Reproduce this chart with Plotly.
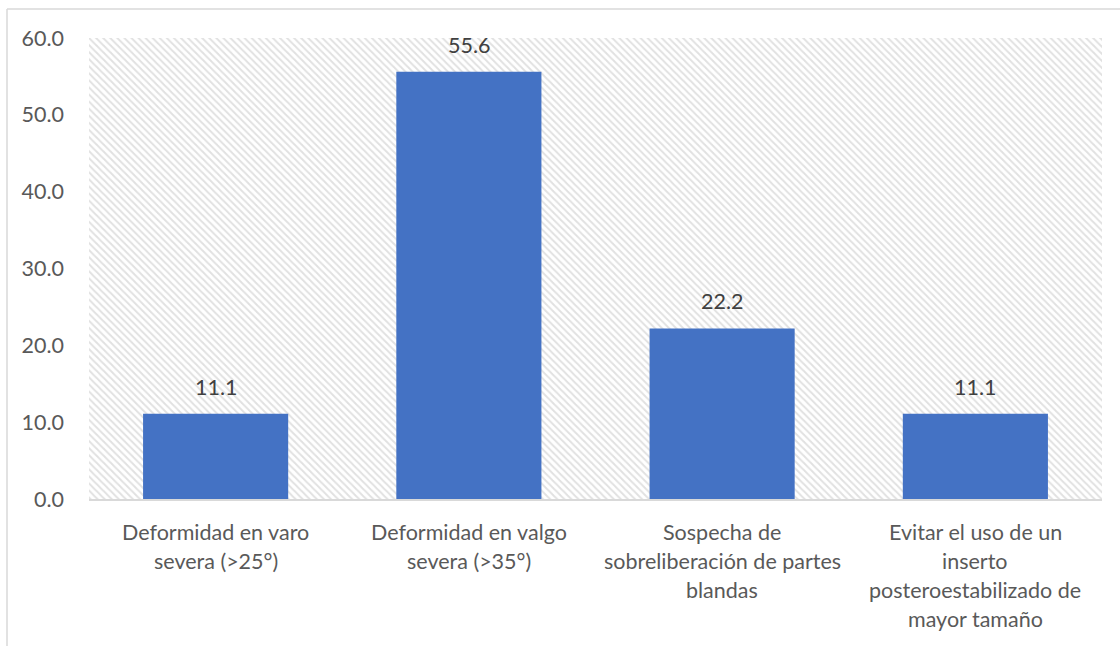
import plotly.graph_objects as go

# Reasons for the choice, label lines as wrapped under each bar
label_lines = [
    ["Deformidad en varo", "severa (>25°)"],
    ["Deformidad en valgo", "severa (>35°)"],
    ["Sospecha de", "sobreliberación de partes", "blandas"],
    ["Evitar el uso de un", "inserto", "posteroestabilizado de", "mayor tamaño"],
]
categories = [" ".join(lines) for lines in label_lines]
values = [11.1, 55.6, 22.2, 11.1]
y_ticks = [0, 10, 20, 30, 40, 50, 60]

W, H = 1120, 646
M_L, M_R, M_T, M_B = 89, 18, 38, 147
FONT = "Lato"
FONT_SIZE = 21.5
TEXT_GRAY = "#595959"
BAR_BLUE = "#4472C4"
FRAME_GRAY = "#d9d9d9"

y_max = y_ticks[-1]
n = len(categories)

fig = go.Figure()

# hatched plot-area background, spanning the whole category range
fig.add_trace(go.Bar(
    x=[categories[0]], y=[y_max], width=[n], offset=-0.5,
    marker=dict(color="white", line=dict(width=0),
                pattern=dict(shape="\\", fgcolor="#c4c4c4", bgcolor="white",
                             size=5, solidity=0.4)),
    hoverinfo="skip", showlegend=False,
))

fig.add_trace(go.Bar(
    x=categories, y=values, width=0.573,
    marker=dict(color=BAR_BLUE, line=dict(width=0)),
    showlegend=False,
))

annotations = []
# value labels above bars
for c, v in zip(categories, values):
    annotations.append(dict(
        x=c, y=v, xref="x", yref="y", text=f"{v:.1f}", showarrow=False,
        yanchor="middle", yshift=27,
        font=dict(family=FONT, size=FONT_SIZE, color="#404040"),
    ))
# category labels, one annotation per wrapped line
for c, lines in zip(categories, label_lines):
    for i, line in enumerate(lines):
        annotations.append(dict(
            x=c, y=0, xref="x", yref="paper", text=line, showarrow=False,
            yanchor="middle", yshift=-(33 + 29 * i),
            font=dict(family=FONT, size=FONT_SIZE, color=TEXT_GRAY),
        ))

plot_w = W - M_L - M_R
plot_h = H - M_T - M_B
frame_x = (7 - M_L) / plot_w
frame_y = (H - M_B - 9) / plot_h
shapes = [
    dict(type="line", xref="paper", yref="paper", x0=frame_x, x1=(W - M_L) / plot_w,
         y0=frame_y, y1=frame_y, line=dict(color=FRAME_GRAY, width=1.5)),
    dict(type="line", xref="paper", yref="paper", x0=frame_x, x1=frame_x,
         y0=frame_y, y1=-(M_B) / plot_h, line=dict(color=FRAME_GRAY, width=1.5)),
]

fig.update_layout(
    width=W, height=H, autosize=False,
    margin=dict(l=M_L, r=M_R, t=M_T, b=M_B, pad=0),
    paper_bgcolor="white", plot_bgcolor="white",
    barmode="overlay",
    font=dict(family=FONT, size=FONT_SIZE, color=TEXT_GRAY),
    annotations=annotations, shapes=shapes,
    xaxis=dict(showticklabels=False, showgrid=False, zeroline=False,
               showline=True, linecolor=FRAME_GRAY, linewidth=1.5,
               range=[-0.5, n - 0.5], ticks=""),
    yaxis=dict(range=[0, y_max], tickvals=y_ticks,
               ticktext=[f"{t:.1f}" for t in y_ticks],
               showgrid=False, zeroline=False, showline=False,
               ticks="", ticklabelstandoff=24,
               tickfont=dict(family=FONT, size=FONT_SIZE, color=TEXT_GRAY)),
)

fig.write_html("out.html")
